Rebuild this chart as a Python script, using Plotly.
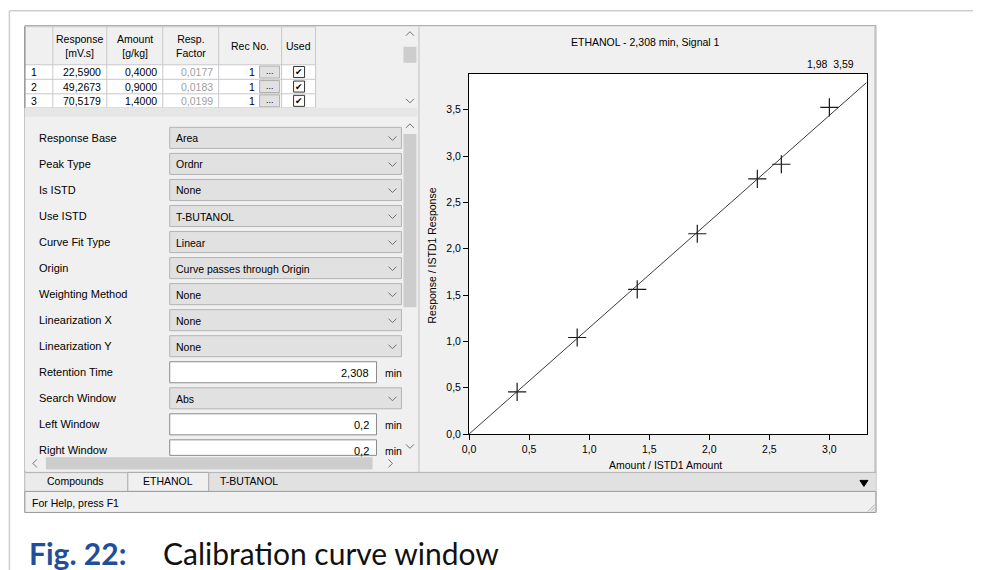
import numpy as np
import plotly.graph_objects as go

W, H = 981, 570
# measured placement of the figure in the photographed page (offset and scale)
OX, OY, SX, SY = 14.1, 8.3, 0.994, 0.988

# ---------------- data ----------------
amount_ratio = [0.4, 0.9, 1.4, 1.9, 2.4, 2.6, 3.0]
response_ratio = [0.454, 1.042, 1.561, 2.162, 2.754, 2.912, 3.525]
x_ticks = [0.0, 0.5, 1.0, 1.5, 2.0, 2.5, 3.0]
y_ticks = [0.0, 0.5, 1.0, 1.5, 2.0, 2.5, 3.0, 3.5]
x_range = [0, 3.31]
y_range = [0, 3.885]

table_headers = ["", "Response<br>[mV.s]", "Amount<br>[g/kg]", "Resp.<br>Factor", "Rec No.", "Used"]
table_rows = ["1", "2", "3"]
table_response = ["22,5900", "49,2673", "70,5179"]
table_amount = ["0,4000", "0,9000", "1,4000"]
table_factor = ["0,0177", "0,0183", "0,0199"]
table_recno = ["1", "1", "1"]

prop_labels = ["Response Base", "Peak Type", "Is ISTD", "Use ISTD", "Curve Fit Type", "Origin",
               "Weighting Method", "Linearization X", "Linearization Y", "Retention Time",
               "Search Window", "Left Window", "Right Window"]
prop_values = ["Area", "Ordnr", "None", "T-BUTANOL", "Linear", "Curve passes through Origin",
               "None", "None", "None", "2,308", "Abs", "0,2", "0,2"]
prop_kinds = ["combo", "combo", "combo", "combo", "combo", "combo", "combo", "combo", "combo",
              "text", "combo", "text", "text"]

tab_names = ["Compounds", "ETHANOL", "T-BUTANOL"]
chart_title = "ETHANOL - 2,308 min, Signal 1"
cursor_text = "1,98  3,59"
x_title = "Amount / ISTD1 Amount"
y_title = "Response / ISTD1 Response"
caption_num = "Fig. 22:"
caption_text = "Calibration curve window"

# ---------------- helpers ----------------
UI_FONT = "Liberation Sans"
shapes = []
annots = []


def X(px):
    return ((px - OX) / SX) / W


def Y(py):
    return 1 - ((py - OY) / SY) / H


def rect(x0, y0, x1, y1, fill=None, line=None, lw=1):
    shapes.append(dict(type="rect", xref="paper", yref="paper", layer="below",
                       x0=X(x0), x1=X(x1), y0=Y(y1), y1=Y(y0),
                       fillcolor=fill if fill else "rgba(0,0,0,0)",
                       line=dict(color=line if line else "rgba(0,0,0,0)", width=lw if line else 0)))


def hline(x0, x1, y, color="#c8c8c8", lw=1):
    shapes.append(dict(type="line", xref="paper", yref="paper", layer="below",
                       x0=X(x0), x1=X(x1), y0=Y(y), y1=Y(y), line=dict(color=color, width=lw)))


def vline(x, y0, y1, color="#c8c8c8", lw=1):
    shapes.append(dict(type="line", xref="paper", yref="paper", layer="below",
                       x0=X(x), x1=X(x), y0=Y(y0), y1=Y(y1), line=dict(color=color, width=lw)))


def path(pts, color="#606060", lw=1, fill=None):
    d = "M " + " L ".join(f"{X(a):.5f},{Y(b):.5f}" for a, b in pts)
    if fill:
        d += " Z"
    shapes.append(dict(type="path", xref="paper", yref="paper", layer="below", path=d,
                       line=dict(color=color, width=lw),
                       fillcolor=fill if fill else "rgba(0,0,0,0)"))


def text(x, y, s, size=11, color="#000000", xanchor="left", family=UI_FONT, angle=0):
    annots.append(dict(x=X(x), y=Y(y), xref="paper", yref="paper", text=s, showarrow=False,
                       xanchor=xanchor, yanchor="middle", textangle=angle,
                       font=dict(size=size, color=color, family=family)))


def chevron_down(cx, cy, color="#707070"):
    path([(cx - 4, cy - 2), (cx, cy + 2), (cx + 4, cy - 2)], color=color)


def chevron_up(cx, cy, color="#707070"):
    path([(cx - 4, cy + 2), (cx, cy - 2), (cx + 4, cy + 2)], color=color)


def chevron_left(cx, cy, color="#707070"):
    path([(cx + 2, cy - 4), (cx - 2, cy), (cx + 2, cy + 4)], color=color)


def chevron_right(cx, cy, color="#707070"):
    path([(cx - 2, cy - 4), (cx + 2, cy), (cx - 2, cy + 4)], color=color)


# ---------------- page frame ----------------
vline(8.5, 11, 575, color="#cfcfcf", lw=1.5)
hline(8.5, 990, 11, color="#cfcfcf", lw=1.5)

# window
rect(24, 26, 876, 512, fill="#f0f0f0", line="#9a9a9a")

# ---------------- table ----------------
col_x = [24, 52, 106, 162, 218, 281, 315]
head_top, head_bot = 27, 65
row_y = [65, 79.5, 94, 108]
rect(24, 27, 402, 108, fill="#f0f0f0")
rect(24, head_top, 315, head_bot, fill="#f0f0f0")
for i in range(3):
    rect(24, row_y[i], 315, row_y[i + 1], fill="#ffffff")
for xc in col_x:
    vline(xc, head_top, 108, color="#c8c8c8")
for yc in [head_top, head_bot] + row_y[1:]:
    hline(24, 315, yc, color="#c8c8c8")
vline(24, 27, 108, color="#808080")
for j, hdr in enumerate(table_headers):
    if hdr:
        text((col_x[j] + col_x[j + 1]) / 2, 46, hdr, size=10.5, xanchor="center")
for i in range(3):
    cy = (row_y[i] + row_y[i + 1]) / 2
    text(28, cy, table_rows[i], size=10.5)
    text(102, cy, table_response[i], size=10.5, xanchor="right")
    text(158, cy, table_amount[i], size=10.5, xanchor="right")
    text(214, cy, table_factor[i], size=10.5, xanchor="right", color="#a0a0a0")
    text(256, cy, table_recno[i], size=10.5, xanchor="right")
    rect(259, cy - 6, 279, cy + 6, fill="#e1e1e1", line="#adadad")
    text(269, cy - 1, "...", size=9, xanchor="center")
    rect(293, cy - 5.5, 304, cy + 5.5, fill="#ffffff", line="#333333")
    text(298.5, cy, "\u2714", size=9, xanchor="center", family="DejaVu Sans")
# table scrollbar
rect(402, 27, 417, 108, fill="#f0f0f0")
rect(403, 47, 416, 63, fill="#cdcdcd")
chevron_up(409.5, 34)
chevron_down(409.5, 101)
# band under table
rect(24, 108, 417, 117, fill="#e6e6e6")

# ---------------- property grid ----------------
rect(24, 117, 402, 456, fill="#f0f0f0")
for i, (lab, val, kind) in enumerate(zip(prop_labels, prop_values, prop_kinds)):
    cy = 138 + 26 * i
    text(36, cy, lab, size=11)
    y0, y1 = cy - 10.5, min(cy + 10.5, 455)
    if kind == "combo":
        rect(169, y0, 401, y1, fill="#e1e1e1", line="#b4b4b4")
        text(173, cy + 0.5, val, size=10.5)
        chevron_down(392, cy + 0.5)
    else:
        rect(169, y0, 376, y1, fill="#ffffff", line="#8a8a8a")
        text(371, cy + 0.5, val, size=11, xanchor="right")
        text(383, cy + 0.5, "min", size=10.5)
# vertical scrollbar of grid
rect(402, 117, 417, 456, fill="#f0f0f0")
rect(403, 134, 416, 307, fill="#cdcdcd")
chevron_up(409.5, 126)
chevron_down(409.5, 446)
# horizontal scrollbar
rect(24, 456, 417, 470, fill="#f0f0f0")
rect(45, 457, 372, 469, fill="#cdcdcd")
chevron_left(34, 463)
chevron_right(390, 463)

# ---------------- chart panel ----------------
vline(418.5, 27, 472, color="#d8d8d8", lw=2)
rect(420, 27, 875, 472, fill="#f0f0f0")
vline(875, 27, 472, color="#c8c8c8", lw=1.5)
xd = [468.7, 866.7]
yd = [74.3, 433.7]
rect(xd[0], yd[0], xd[1], yd[1], fill="#ffffff")
text(645, 42, chart_title, size=10.5, xanchor="center")
text(856, 64, cursor_text, size=10.5, xanchor="right")
text(665, 465, x_title, size=10.5, xanchor="center")
text(432, 255, y_title, size=10.5, xanchor="center", angle=-90)

# ---------------- tabs & status bar ----------------
rect(24, 472, 876, 491, fill="#e1e1e1")
hline(24, 876, 472, color="#b0b0b0")
rect(25, 473, 127, 491, fill="#ebebeb")
rect(127, 472, 208, 491, fill="#f0f0f0", line="#a8a8a8")
tab_cx = [75, 167.5, 248]
for name, cx in zip(tab_names, tab_cx):
    text(cx, 481, name, size=10.5, xanchor="center")
path([(860, 480), (868, 480), (864, 486)], color="#000000", lw=1, fill="#000000")
rect(24, 491, 876, 512, fill="#f0f0f0", line="#9a9a9a")
text(29, 503, "For Help, press F1", size=10.5)
for k in range(3):
    path([(874 - 3 * k, 511), (875, 510 - 3 * k)], color="#b0b0b0")

# ---------------- caption ----------------
text(26, 552, "<b>" + caption_num + "</b>", size=30, color="#1f4e9a", family="Lato")
text(160, 552, caption_text, size=30, color="#111111", family="Lato")

# ---------------- fit line & points ----------------
xa = np.array(amount_ratio)
ya = np.array(response_ratio)
slope = float((xa * ya).sum() / (xa * xa).sum())
fit_x = [x_range[0], x_range[1]]
fit_y = [slope * v for v in fit_x]

fig = go.Figure()
fig.add_trace(go.Scatter(x=fit_x, y=fit_y, mode="lines",
                         line=dict(color="#3a3a3a", width=1), showlegend=False, hoverinfo="skip"))
fig.add_trace(go.Scatter(x=amount_ratio, y=response_ratio, mode="markers",
                         marker=dict(symbol="cross-thin", size=13, color="#1a1a1a",
                                     line=dict(color="#1a1a1a", width=1.2)),
                         showlegend=False))

axis_common = dict(showgrid=False, zeroline=False, showline=True, linecolor="#000000",
                   linewidth=1, mirror=True, ticks="outside", ticklen=5, tickcolor="#000000",
                   tickfont=dict(size=10.5, family=UI_FONT, color="#000000"),
                   tickformat=".1f", fixedrange=True)
fig.update_layout(
    width=W, height=H,
    margin=dict(l=0, r=0, t=0, b=0),
    paper_bgcolor="#ffffff",
    plot_bgcolor="#ffffff",
    separators=",.",
    showlegend=False,
    xaxis=dict(domain=[X(xd[0]), X(xd[1])], range=x_range, tickvals=x_ticks, **axis_common),
    yaxis=dict(domain=[Y(yd[1]), Y(yd[0])], range=y_range, tickvals=y_ticks, **axis_common),
    shapes=shapes,
    annotations=annots,
)

fig.write_html("out.html")
